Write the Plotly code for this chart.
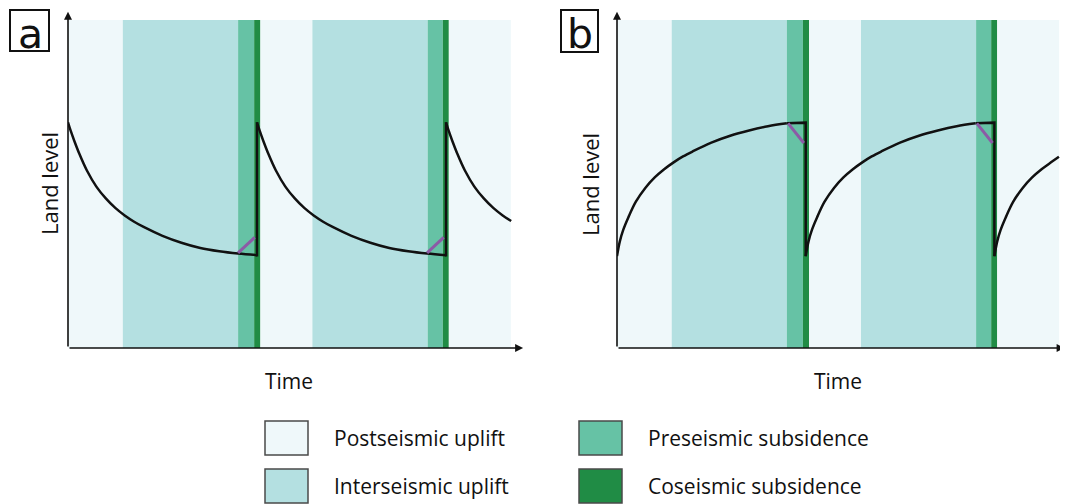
import plotly.graph_objects as go

# page body has an 8px margin: figure is sized to fill the rest of the window
OX, OY = 8, 8
W, H = 1060, 496

# ---------------- data ----------------
phase_names = ["Postseismic uplift", "Interseismic uplift",
               "Preseismic subsidence", "Coseismic subsidence"]
phase_colors = ["#eff8fa", "#b4e0e1", "#66c2a5", "#208c45"]

# phase boundaries along time axis (same in both panels)
phase_edges = [0, 2.9, 9.0, 9.85, 10.18, 12.93, 19.03, 19.83, 20.15, 23.43]
phase_kind = [0, 1, 2, 3, 0, 1, 2, 3, 0]
shade_top = 10.0

quake_times = [10, 20]
cycle_starts = [0, 10]

# panel a: land level decays after each earthquake
a_t = [0, 0.15, 0.33, 0.6, 1.0, 1.5, 2.0, 2.5, 3.0, 3.5, 4.0, 5.0, 6.0, 7.0, 8.0, 9.0, 10.0]
a_y = [6.88, 6.61, 6.32, 5.92, 5.41, 4.92, 4.56, 4.27, 4.04, 3.85, 3.69, 3.42, 3.21, 3.05,
       2.95, 2.88, 2.83]
a_tail_t = [0, 0.15, 0.33, 0.6, 1.0, 1.5, 2.0, 2.5, 3.0, 3.45]
a_tail_y = [6.88, 6.61, 6.32, 5.92, 5.41, 4.92, 4.56, 4.27, 4.04, 3.87]
a_quake_low, a_quake_high = 2.83, 6.88
a_purple_t = [9.0, 9.88]
a_purple_y = [2.90, 3.37]

# panel b: land level rises after each earthquake
b_t = [0, 0.15, 0.33, 0.6, 1.0, 1.5, 2.0, 2.5, 3.0, 3.5, 4.0, 5.0, 6.0, 7.0, 8.0, 9.0]
b_y = [2.80, 3.25, 3.60, 3.98, 4.46, 4.88, 5.20, 5.45, 5.66, 5.84, 5.99, 6.26, 6.47, 6.63,
       6.76, 6.85]
b_flat_t = [9.0, 10.0]
b_flat_y = [6.85, 6.87]
b_quake_low = 2.80
b_tail_t = [0, 0.15, 0.33, 0.6, 1.0, 1.5, 2.0, 2.5, 3.0, 3.42]
b_tail_y = [2.80, 3.25, 3.60, 3.98, 4.46, 4.88, 5.20, 5.45, 5.66, 5.83]
b_purple_t = [9.07, 9.9]
b_purple_y = [6.85, 6.25]

x_arrow_end = [24.08, 23.72]
y_arrow_end = 10.25

# ---------------- figure ----------------
def px(x):
    return (x - OX) / W

def py(y):
    return 1 - (y - OY) / H

fig = go.Figure()
BLACK = "#111111"
PURPLE = "#8c5aa6"

shapes = []
annotations = []

def line(xs, ys, xr, yr, color=BLACK, width=2.5, shape="linear"):
    fig.add_trace(go.Scatter(x=xs, y=ys, mode="lines",
                             line=dict(color=color, width=width, shape=shape, smoothing=1.0),
                             xaxis=xr, yaxis=yr, showlegend=False, hoverinfo="skip"))

for p, (xr, yr) in enumerate([("x", "y"), ("x2", "y2")]):
    # phase shading
    for i, k in enumerate(phase_kind):
        shapes.append(dict(type="rect", xref=xr, yref=yr,
                           x0=phase_edges[i], x1=phase_edges[i + 1],
                           y0=0, y1=shade_top, fillcolor=phase_colors[k],
                           line=dict(width=0), layer="below"))

    if p == 0:
        for s in cycle_starts:
            line([s + t for t in a_t], a_y, xr, yr, shape="spline")
        line([20 + t for t in a_tail_t], a_tail_y, xr, yr, shape="spline")
        for q in quake_times:
            line([q - 0.05, q, q], [a_quake_low, a_quake_low, a_quake_high], xr, yr)
            line([q - 10 + t for t in a_purple_t], a_purple_y, xr, yr, color=PURPLE, width=3)
    else:
        for s in cycle_starts:
            line([s + t for t in b_t], b_y, xr, yr, shape="spline")
            line([s + t for t in b_flat_t] + [s + 10], b_flat_y + [b_quake_low], xr, yr)
        line([20 + t for t in b_tail_t], b_tail_y, xr, yr, shape="spline")
        for q in quake_times:
            line([q - 10 + t for t in b_purple_t], b_purple_y, xr, yr, color=PURPLE, width=3)

    # axis arrows
    annotations.append(dict(x=x_arrow_end[p], y=0, ax=0, ay=0, xref=xr, yref=yr,
                            axref=xr, ayref=yr, text="", showarrow=True,
                            arrowhead=2, arrowsize=1, arrowwidth=1.6, arrowcolor=BLACK))
    annotations.append(dict(x=0, y=y_arrow_end, ax=0, ay=0, xref=xr, yref=yr,
                            axref=xr, ayref=yr, text="", showarrow=True,
                            arrowhead=2, arrowsize=1, arrowwidth=1.6, arrowcolor=BLACK))

FONT = "Open Sans"

# axis titles
for (lx, ly), (tx, ty) in [((49, 184), (289, 381)), ((590, 185), (838, 381))]:
    annotations.append(dict(x=px(lx), y=py(ly), xref="paper", yref="paper", text="Land level",
                            textangle=-90, showarrow=False, xanchor="center", yanchor="middle",
                            font=dict(family=FONT, size=22, color=BLACK)))
    annotations.append(dict(x=px(tx), y=py(ty), xref="paper", yref="paper", text="Time",
                            showarrow=False, xanchor="center", yanchor="middle",
                            font=dict(family=FONT, size=21, color=BLACK)))

# panel letters
for letter, (x0, y0, x1, y1), cx in [("a", (10, 10, 49, 51), 30),
                                     ("b", (561, 10, 598, 52), 580)]:
    shapes.append(dict(type="rect", xref="paper", yref="paper",
                       x0=px(x0), x1=px(x1), y0=py(y0), y1=py(y1),
                       line=dict(color=BLACK, width=2), fillcolor="rgba(0,0,0,0)"))
    annotations.append(dict(x=px(cx), y=1, xref="paper", yref="paper", text=letter,
                            showarrow=False, xanchor="center", yanchor="top",
                            font=dict(family="DejaVu Sans", size=41, color=BLACK)))

# legend
legend_pos = [(265, 421), (265, 469), (579, 421), (579, 469)]
for k, (bx, by) in enumerate(legend_pos):
    shapes.append(dict(type="rect", xref="paper", yref="paper",
                       x0=px(bx), x1=px(bx + 43), y0=py(by), y1=py(by + 34),
                       fillcolor=phase_colors[k], line=dict(color="#4a4a4a", width=1.5)))
    annotations.append(dict(x=px(bx + 67), y=py(by + 17), xref="paper", yref="paper",
                            text=phase_names[k], showarrow=False, xanchor="left", yanchor="middle",
                            font=dict(family=FONT, size=21, color=BLACK)))

ax_common = dict(showgrid=False, zeroline=False, showticklabels=False, showline=False,
                 ticks="", fixedrange=True)
ydom = [py(348), min(1.0, py(348 - 10.35 * 32.8))]
fig.update_layout(
    width=W, height=H, margin=dict(l=0, r=0, t=0, b=0),
    paper_bgcolor="white", plot_bgcolor="white",
    xaxis=dict(domain=[px(68), px(68 + 24.2 * 18.9)], range=[0, 24.2], **ax_common),
    yaxis=dict(domain=ydom, range=[0, 10.35], anchor="x", **ax_common),
    xaxis2=dict(domain=[px(617), min(1.0, px(617 + 23.9 * 18.87))], range=[0, 23.9],
                anchor="y2", **ax_common),
    yaxis2=dict(domain=ydom, range=[0, 10.35], anchor="x2", **ax_common),
    shapes=shapes, annotations=annotations, showlegend=False,
)

fig.write_html("out.html")
